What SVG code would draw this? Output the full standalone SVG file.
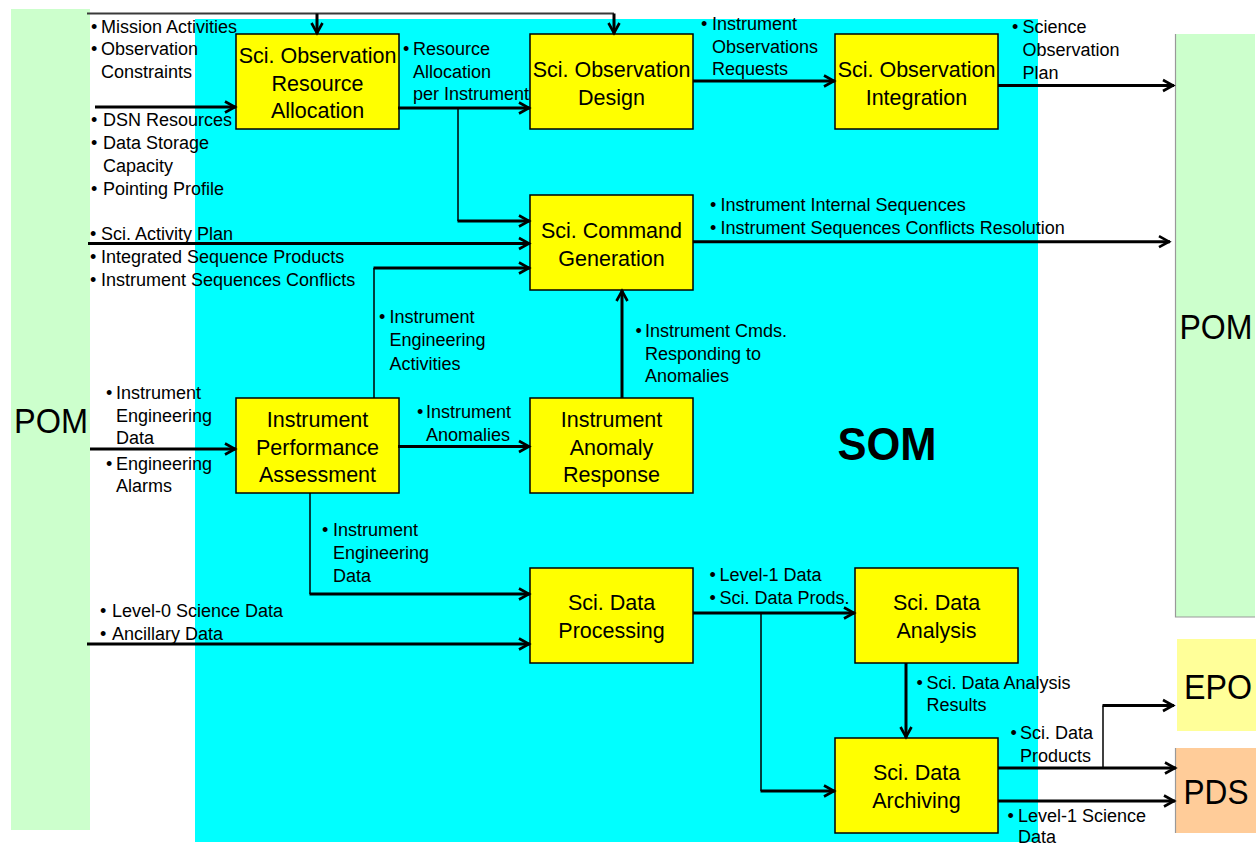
<svg xmlns="http://www.w3.org/2000/svg" width="1259" height="846" viewBox="0 0 1259 846">
<defs>
<style>
text{font-family:"Liberation Sans",Arial,Helvetica,sans-serif;fill:#000}
.lbl{font-size:18px}
.bx{font-size:21.5px;text-anchor:middle}
.big{font-size:35px;text-anchor:middle}
.box{fill:#FFFF00;stroke:#000;stroke-width:1.5}
.thick{fill:none;stroke:#000;stroke-width:3}
.thin{fill:none;stroke:#000;stroke-width:1.5}
.arr{marker-end:url(#ah)}
</style>
<marker id="ah" viewBox="-2 -2 16 16" refX="12" refY="6" markerWidth="16" markerHeight="16" markerUnits="userSpaceOnUse" orient="auto">
<path d="M1,0.5 L11,6 L1,11.5" fill="none" stroke="#000" stroke-width="2.6"/>
</marker>
</defs>
<rect width="1259" height="846" fill="#FFFFFF"/>
<g id="som-area">
<rect x="195" y="19" width="843" height="823" fill="#00FFFF"/>
<text x="887" y="460" font-size="46" font-weight="bold" text-anchor="middle" textLength="99" lengthAdjust="spacingAndGlyphs">SOM</text>
</g>
<g id="pom-left">
<rect x="11" y="9" width="79" height="821" fill="#CCFFCC"/>
<text class="big" x="51" y="433" textLength="74" lengthAdjust="spacingAndGlyphs">POM</text>
</g>
<g id="pom-right">
<rect x="1175" y="34" width="80" height="583" fill="#CCFFCC"/>
<path d="M1175.5,34 V617 H1255" fill="none" stroke="#999" stroke-width="1.2"/>
<text class="big" x="1216" y="339" textLength="73" lengthAdjust="spacingAndGlyphs">POM</text>
</g>
<g id="epo">
<rect x="1177" y="639" width="79" height="92" fill="#FFFF99"/>
<text class="big" x="1218" y="699" textLength="68" lengthAdjust="spacingAndGlyphs">EPO</text>
</g>
<g id="pds">
<rect x="1175" y="748" width="81" height="85" fill="#FFCC99"/>
<path d="M1175.5,748 V833" fill="none" stroke="#999" stroke-width="1.2"/>
<text class="big" x="1216" y="804" textLength="65" lengthAdjust="spacingAndGlyphs">PDS</text>
</g>
<g id="n-resource-allocation">
<rect class="box" x="236" y="34" width="163" height="95"/>
<text class="bx" x="317.5"><tspan x="317.5" y="63">Sci. Observation</tspan><tspan x="317.5" y="90.5">Resource</tspan><tspan x="317.5" y="118">Allocation</tspan></text>
</g>
<g id="n-observation-design">
<rect class="box" x="530" y="34" width="163" height="95"/>
<text class="bx" x="611.5"><tspan x="611.5" y="77">Sci. Observation</tspan><tspan x="611.5" y="104.5">Design</tspan></text>
</g>
<g id="n-observation-integration">
<rect class="box" x="835" y="34" width="163" height="95"/>
<text class="bx" x="916.5"><tspan x="916.5" y="77">Sci. Observation</tspan><tspan x="916.5" y="104.5">Integration</tspan></text>
</g>
<g id="n-command-generation">
<rect class="box" x="530" y="195" width="163" height="95"/>
<text class="bx" x="611.5"><tspan x="611.5" y="238">Sci. Command</tspan><tspan x="611.5" y="265.5">Generation</tspan></text>
</g>
<g id="n-performance-assessment">
<rect class="box" x="236" y="398" width="163" height="95"/>
<text class="bx" x="317.5"><tspan x="317.5" y="427">Instrument</tspan><tspan x="317.5" y="454.5">Performance</tspan><tspan x="317.5" y="482">Assessment</tspan></text>
</g>
<g id="n-anomaly-response">
<rect class="box" x="530" y="398" width="163" height="95"/>
<text class="bx" x="611.5"><tspan x="611.5" y="427">Instrument</tspan><tspan x="611.5" y="454.5">Anomaly</tspan><tspan x="611.5" y="482">Response</tspan></text>
</g>
<g id="n-data-processing">
<rect class="box" x="530" y="568" width="163" height="95"/>
<text class="bx" x="611.5"><tspan x="611.5" y="610">Sci. Data</tspan><tspan x="611.5" y="638">Processing</tspan></text>
</g>
<g id="n-data-analysis">
<rect class="box" x="855" y="568" width="163" height="95"/>
<text class="bx" x="936.5"><tspan x="936.5" y="610">Sci. Data</tspan><tspan x="936.5" y="638">Analysis</tspan></text>
</g>
<g id="n-data-archiving">
<rect class="box" x="835" y="738" width="163" height="95"/>
<text class="bx" x="916.5"><tspan x="916.5" y="780">Sci. Data</tspan><tspan x="916.5" y="808">Archiving</tspan></text>
</g>
<g id="connectors">
<path d="M87,13.5 H614" fill="none" stroke="#3a3a3a" stroke-width="2"/>
<path class="thick arr" d="M317,13.5 V34"/>
<path class="thick arr" d="M614,13.5 V34"/>
<path class="thick arr" d="M95,107 H236"/>
<path class="thick arr" d="M398,108 H530"/>
<path class="thin" d="M458,108 V221"/>
<path class="thick arr" d="M457.5,221 H530"/>
<path class="thick arr" d="M693,81 H835"/>
<path class="thick arr" d="M998,85.5 H1174"/>
<path class="thick arr" d="M88,243.5 H530"/>
<path class="thin" d="M374,398 V268"/>
<path class="thick arr" d="M373.5,268 H530"/>
<path class="thick arr" d="M693,241.7 H1170"/>
<path class="thick arr" d="M90,449 H236"/>
<path class="thick arr" d="M398,446.5 H530"/>
<path class="thick arr" d="M622,398 V290"/>
<path class="thin" d="M310,493 V594"/>
<path class="thick arr" d="M309.5,594 H530"/>
<path class="thick arr" d="M87,644 H530"/>
<path class="thick arr" d="M693,613 H855"/>
<path class="thin" d="M761,613 V791"/>
<path class="thick arr" d="M760.5,791 H835"/>
<path class="thick arr" d="M906,663 V738"/>
<path class="thick arr" d="M998,768 H1176"/>
<path class="thin" d="M1103,768 V705.5"/>
<path class="thick arr" d="M1102.5,705.5 H1174"/>
<path class="thick arr" d="M998,801 H1175"/>
</g>
<g id="labels" class="lbl">
<text class="lbl" x="91" y="33">•</text><text class="lbl" x="101" y="33">Mission Activities</text>
<text class="lbl" x="91" y="55">•</text><text class="lbl" x="101" y="55">Observation</text>
<text class="lbl" x="101" y="78">Constraints</text>
<text class="lbl" x="91" y="126">•</text><text class="lbl" x="103" y="126">DSN Resources</text>
<text class="lbl" x="91" y="149">•</text><text class="lbl" x="103" y="149">Data Storage</text>
<text class="lbl" x="103" y="171.5">Capacity</text>
<text class="lbl" x="91" y="195">•</text><text class="lbl" x="103" y="195">Pointing Profile</text>
<text class="lbl" x="90" y="240">•</text><text class="lbl" x="101" y="240">Sci. Activity Plan</text>
<text class="lbl" x="90" y="263">•</text><text class="lbl" x="101" y="263">Integrated Sequence Products</text>
<text class="lbl" x="90" y="286">•</text><text class="lbl" x="101" y="286">Instrument Sequences Conflicts</text>
<text class="lbl" x="403" y="55">•</text><text class="lbl" x="413" y="55">Resource</text>
<text class="lbl" x="413" y="78">Allocation</text>
<text class="lbl" x="413" y="100">per Instrument</text>
<text class="lbl" x="701" y="30">•</text><text class="lbl" x="712" y="30">Instrument</text>
<text class="lbl" x="712" y="52.5">Observations</text>
<text class="lbl" x="712" y="75">Requests</text>
<text class="lbl" x="1012" y="33">•</text><text class="lbl" x="1022.5" y="33">Science</text>
<text class="lbl" x="1022.5" y="56">Observation</text>
<text class="lbl" x="1022.5" y="79">Plan</text>
<text class="lbl" x="710" y="211">•</text><text class="lbl" x="720.5" y="211">Instrument Internal Sequences</text>
<text class="lbl" x="710" y="234">•</text><text class="lbl" x="720.5" y="234">Instrument Sequences Conflicts Resolution</text>
<text class="lbl" x="379" y="322.5">•</text><text class="lbl" x="389.5" y="322.5">Instrument</text>
<text class="lbl" x="389.5" y="346">Engineering</text>
<text class="lbl" x="389.5" y="369.5">Activities</text>
<text class="lbl" x="635.5" y="337">•</text><text class="lbl" x="645" y="337">Instrument Cmds.</text>
<text class="lbl" x="645" y="359.5">Responding to</text>
<text class="lbl" x="645" y="382">Anomalies</text>
<text class="lbl" x="417" y="417.5">•</text><text class="lbl" x="426" y="417.5">Instrument</text>
<text class="lbl" x="426" y="441">Anomalies</text>
<text class="lbl" x="106" y="398.5">•</text><text class="lbl" x="116" y="398.5">Instrument</text>
<text class="lbl" x="116" y="421.5">Engineering</text>
<text class="lbl" x="116" y="444">Data</text>
<text class="lbl" x="106" y="470">•</text><text class="lbl" x="116" y="470">Engineering</text>
<text class="lbl" x="116" y="492">Alarms</text>
<text class="lbl" x="322" y="536">•</text><text class="lbl" x="333" y="536">Instrument</text>
<text class="lbl" x="333" y="559">Engineering</text>
<text class="lbl" x="333" y="582">Data</text>
<text class="lbl" x="100" y="617">•</text><text class="lbl" x="112" y="617">Level-0 Science Data</text>
<text class="lbl" x="100" y="640">•</text><text class="lbl" x="112" y="640">Ancillary Data</text>
<text class="lbl" x="709.5" y="581">•</text><text class="lbl" x="719.5" y="581">Level-1 Data</text>
<text class="lbl" x="709.5" y="603.5">•</text><text class="lbl" x="719.5" y="603.5">Sci. Data Prods.</text>
<text class="lbl" x="916.5" y="688.5">•</text><text class="lbl" x="926.5" y="688.5">Sci. Data Analysis</text>
<text class="lbl" x="926.5" y="711">Results</text>
<text class="lbl" x="1010.5" y="739">•</text><text class="lbl" x="1020" y="739">Sci. Data</text>
<text class="lbl" x="1020" y="762">Products</text>
<text class="lbl" x="1007.5" y="822">•</text><text class="lbl" x="1018" y="822">Level-1 Science</text>
<text class="lbl" x="1018" y="843">Data</text>
</g>
</svg>
